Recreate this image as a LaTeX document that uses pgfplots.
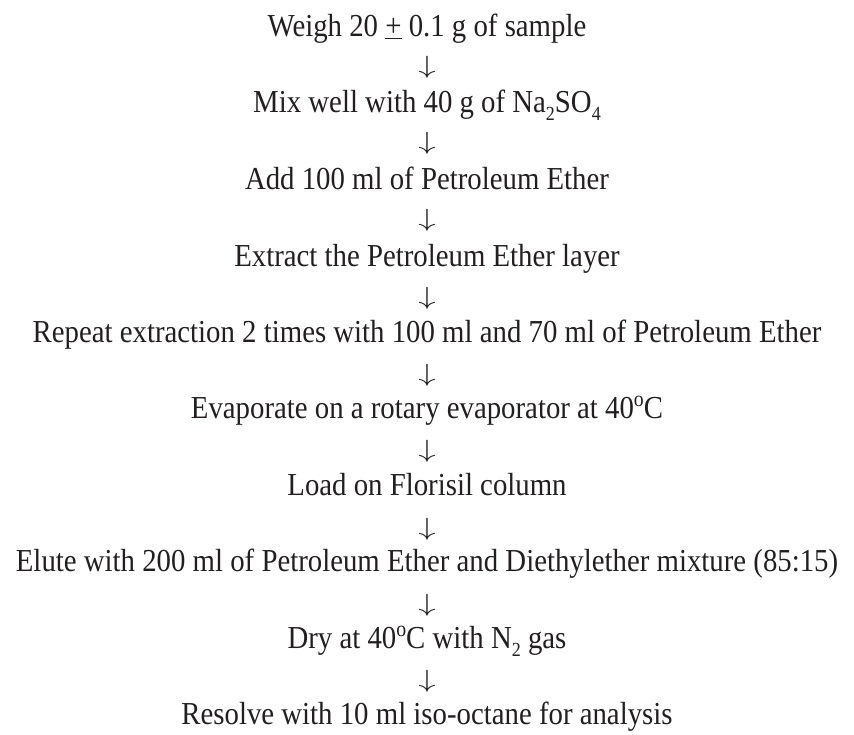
\documentclass[border=0pt]{standalone}
\usepackage{pgfplots}
\pgfplotsset{compat=1.18}
\usepackage{fontspec}
\setmainfont{Liberation Serif}[FakeStretch=0.9]
\definecolor{ink}{RGB}{35,31,32}
\newcommand{\darr}{\scalebox{1.4}[1]{$\downarrow$}}
\newcommand{\sub}[1]{\raisebox{-8pt}{\fontsize{20}{20}\selectfont #1}}
\newcommand{\dego}{\raisebox{12pt}{\fontsize{22}{22}\selectfont o}}
\begin{document}
\begin{tikzpicture}
\begin{axis}[
  width=854pt, height=734pt, scale only axis,
  xmin=0, xmax=854, ymin=0, ymax=734, y dir=reverse,
  hide axis, clip=false,
  nodes near coords={\pgfplotspointmeta},
  nodes near coords align=center,
]
% step texts (y = baseline)
\addplot[draw=none, mark=none, point meta=explicit symbolic,
  every node near coord/.append style={anchor=base, inner sep=0pt, font=\fontsize{32}{36}\selectfont, text=ink}] coordinates {
  (427,36.7)  [Weigh 20 \underline{+} 0.1 g of sample]
  (427,112.5) [Mix well with 40 g of Na\sub{2}SO\sub{4}]
  (427,189) [Add 100 ml of Petroleum Ether]
  (427,266) [Extract the Petroleum Ether layer]
  (427,342.5) [Repeat extraction 2 times with 100 ml and 70 ml of Petroleum Ether]
  (427,418.5) [Evaporate on a rotary evaporator at 40\dego C]
  (427,495) [Load on Florisil column]
  (427,571.5) [Elute with 200 ml of Petroleum Ether and Diethylether mixture (85:15)]
  (427,648.5) [Dry at 40\dego C with N\sub{2} gas]
  (427,724) [Resolve with 10 ml iso-octane for analysis]
};
% arrows (y = centre)
\addplot[draw=none, mark=none, point meta=explicit symbolic,
  every node near coord/.append style={anchor=center, inner sep=0pt, font=\fontsize{25}{28}\selectfont, text=ink}] coordinates {
  (427,67)  [\darr]
  (427,143) [\darr]
  (427,220) [\darr]
  (427,298) [\darr]
  (427,375) [\darr]
  (427,451) [\darr]
  (427,529) [\darr]
  (427,605) [\darr]
  (427,681) [\darr]
};
\path (rel axis cs:0,0) rectangle (rel axis cs:1,1);
\end{axis}
\end{tikzpicture}
\end{document}
